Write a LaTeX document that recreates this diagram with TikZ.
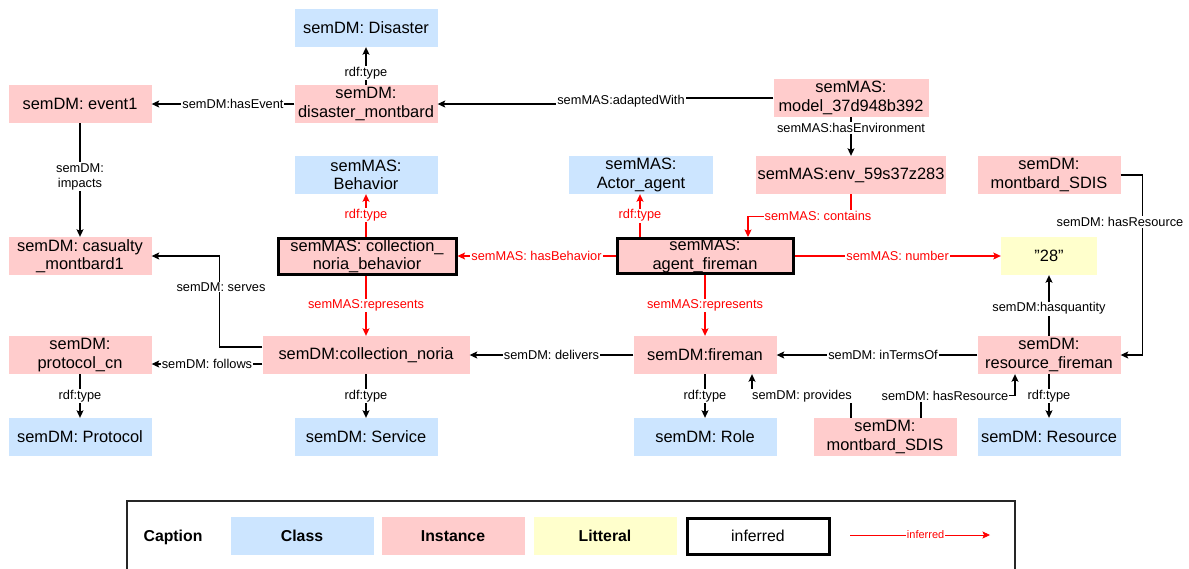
\documentclass[tikz,border=0pt]{standalone}
\usepackage{fontspec}
\setmainfont{Liberation Sans}
\usetikzlibrary{arrows.meta}
\definecolor{clsblue}{HTML}{CCE5FF}
\definecolor{instpink}{HTML}{FFCCCC}
\definecolor{lityellow}{HTML}{FFFFCC}
\tikzset{
  box/.style={rectangle, inner sep=0pt, minimum height=38pt, minimum width=143pt, align=center, font=\fontsize{16.4}{18.5}\selectfont},
  cls/.style={box, fill=clsblue},
  inst/.style={box, fill=instpink},
  lit/.style={box, fill=lityellow},
  infbox/.style={box, fill=instpink, draw=black, line width=3pt},
  edge/.style={draw=black, line width=1.05pt, -{Stealth[length=7.5pt,width=7pt,inset=1.5pt]}},
  redge/.style={edge, draw=red},
  lbl/.style={fill=white, inner sep=1pt, font=\fontsize{12.8}{14.5}\selectfont, text=black, align=center},
  rlbl/.style={lbl, text=red},
  capbox/.style={box, font=\fontsize{15.8}{18}\selectfont\bfseries},
}
\begin{document}
\begin{tikzpicture}[x=1pt,y=-1pt]
\useasboundingbox (0,0) rectangle (1189,568);
\clip (0,0) rectangle (1189,568);
\fill[white] (0,0) rectangle (1189,568);

% nodes
\node[cls] (dis) at (366,28) {semDM: Disaster};
\node[inst] (dm) at (366,104) {semDM:\\disaster\_montbard};
\node[inst] (ev) at (80,104) {semDM: event1};
\node[inst, minimum width=155pt] (model) at (851,98) {semMAS:\\model\_37d948b392};
\node[inst, minimum width=190pt] (env) at (851,175) {semMAS:env\_59s37z283};
\node[cls, minimum width=144pt] (actor) at (641,175) {semMAS:\\Actor\_agent};
\node[cls] (beh) at (366,175) {semMAS:\\Behavior};
\node[infbox, minimum width=176pt, minimum height=35pt] (af) at (705,256) {semMAS:\\agent\_fireman};
\node[infbox, minimum width=178pt, minimum height=36pt] (cnb) at (367,256) {semMAS: collection\_\\noria\_behavior};
\node[inst] (cas) at (80,256) {semDM: casualty\\\_montbard1};
\node[inst] (mst) at (1049,175) {semDM:\\montbard\_SDIS};
\node[lit, minimum width=96pt] (lit) at (1049,256) {\symbol{34}28\symbol{34}};
\node[inst] (rf) at (1049,355) {semDM:\\resource\_fireman};
\node[cls] (res) at (1049,437) {semDM: Resource};
\node[inst, minimum width=207pt] (cn) at (366,355) {semDM:collection\_noria};
\node[inst] (pc) at (80,355) {semDM:\\protocol\_cn};
\node[cls] (prot) at (80,437) {semDM: Protocol};
\node[cls] (serv) at (366,437) {semDM: Service};
\node[inst] (fm) at (705,355) {semDM:fireman};
\node[cls] (role) at (705,437) {semDM: Role};
\node[inst] (msb) at (885,437) {semDM:\\montbard\_SDIS};

% black edges
\draw[edge] (dm.north) -- node[lbl, pos=0.32] {rdf:type} (dis.south);
\draw[edge] (dm.west) -- node[lbl, pos=0.43] {semDM:hasEvent} (ev.east);
\draw[edge] (model.west) -- ++(-152,0) |- (dm.east);
\node[lbl] at (621,101) {semMAS:adaptedWith};
\draw[edge] (model.south) -- node[lbl, pos=0.28] {semMAS:hasEnvironment} (env.north);
\draw[edge] (ev.south) -- node[lbl, pos=0.47, font=\fontsize{12.8}{15}\selectfont] {semDM:\\impacts} (cas.north);
\draw[edge] ([yshift=8pt]cn.west) -- ++(-43,0) |- (cas.east);
\node[lbl] at (221,287) {semDM: serves};
\draw[edge] ([yshift=-9pt]cn.west) -- node[lbl] {semDM: follows} ([yshift=-9pt]pc.east);
\draw[edge] (pc.south) -- node[lbl] {rdf:type} (prot.north);
\draw[edge] (cn.south) -- node[lbl] {rdf:type} (serv.north);
\draw[edge] (fm.west) -- node[lbl] {semDM: delivers} (cn.east);
\draw[edge] (rf.west) -- node[lbl, pos=0.47] {semDM: inTermsOf} (fm.east);
\draw[edge] (fm.south) -- node[lbl] {rdf:type} (role.north);
\draw[edge] ([xshift=-34pt]msb.north) -- ++(0,-22) -| ([xshift=47pt]fm.south);
\node[lbl] at (802,396) {semDM: provides};
\draw[edge] ([xshift=36pt]msb.north) -- ++(0,-22) -| ([xshift=-34pt]rf.south);
\node[lbl] at (945,396) {semDM: hasResource};
\draw[edge] (mst.east) -- ++(22,0) |- (rf.east);
\node[lbl] at (1120,222) {semDM: hasResource};
\draw[edge] (rf.north) -- node[lbl, pos=0.45] {semDM:hasquantity} (lit.south);
\draw[edge] (rf.south) -- node[lbl] {rdf:type} (res.north);

% red (inferred) edges
\draw[redge] ([xshift=-1pt]cnb.north) -- node[rlbl, pos=0.5] {rdf:type} (beh.south);
\draw[redge] ([xshift=-65pt]af.north) -- node[rlbl, pos=0.5] {rdf:type} ([xshift=-1pt]actor.south);
\draw[redge] (env.south) -- ++(0,22) -| ([xshift=43pt]af.north);
\node[rlbl] at (818,216) {semMAS: contains};
\draw[redge] (af.west) -- node[rlbl] {semMAS: hasBehavior} (cnb.east);
\draw[redge] (af.east) -- node[rlbl] {semMAS: number} (lit.west);
\draw[redge] ([xshift=-1pt]cnb.south) -- node[rlbl] {semMAS:represents} (cn.north);
\draw[redge] (af.south) -- node[rlbl] {semMAS:represents} (fm.north);

% caption
\draw[line width=2pt, draw=black!85] (127,501) rectangle (1015,600);
\node[font=\fontsize{15.8}{18}\selectfont\bfseries] (capt) at (173,537) {Caption};
\node[capbox, fill=clsblue] (kcls) at (302,536) {Class};
\node[capbox, fill=instpink] (kinst) at (453,536) {Instance};
\node[capbox, fill=lityellow] (klit) at (605,536) {Litteral};
\node[box, fill=white, draw=black, line width=3pt, minimum width=142pt, minimum height=36pt, font=\fontsize{15.8}{18}\selectfont] (kinf) at (758,536) {inferred};
\coordinate (ka) at (850,535);
\coordinate (kb) at (990,535);
\draw[redge, line width=0.8pt] (ka) -- node[rlbl, pos=0.54, font=\fontsize{11}{12}\selectfont] {inferred} (kb);
\end{tikzpicture}
\end{document}
